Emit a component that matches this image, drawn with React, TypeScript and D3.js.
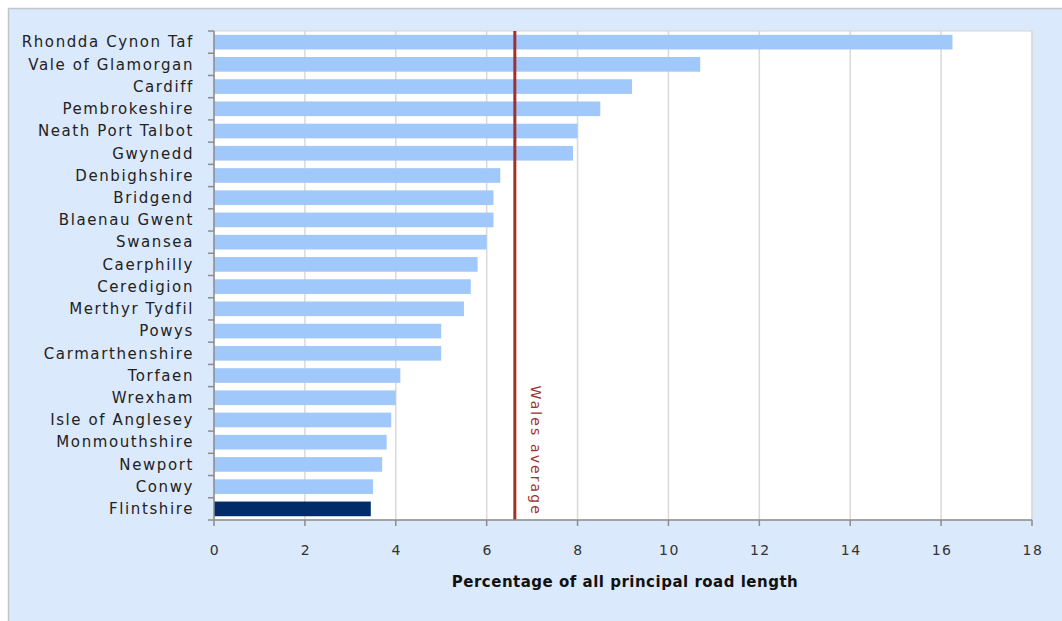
import React from "react";
import * as d3 from "d3";

const categories = [
  "Rhondda Cynon Taf", "Vale of Glamorgan", "Cardiff", "Pembrokeshire", "Neath Port Talbot",
  "Gwynedd", "Denbighshire", "Bridgend", "Blaenau Gwent", "Swansea", "Caerphilly",
  "Ceredigion", "Merthyr Tydfil", "Powys", "Carmarthenshire", "Torfaen", "Wrexham",
  "Isle of Anglesey", "Monmouthshire", "Newport", "Conwy", "Flintshire",
];
const values = [
  16.25, 10.7, 9.2, 8.5, 8.0, 7.9, 6.3, 6.15, 6.15, 6.0, 5.8,
  5.65, 5.5, 5.0, 5.0, 4.1, 4.0, 3.9, 3.8, 3.7, 3.5, 3.45,
];
const highlight = "Flintshire";
const walesAverage = 6.62;
const xTicks = [0, 2, 4, 6, 8, 10, 12, 14, 16, 18];
const xTitle = "Percentage of all principal road length";
const avgLabel = "Wales average";

export default function App() {
  const W = 1062, H = 621;
  const left = 214, right = 1032, top = 31, bottom = 520;
  const x = d3.scaleLinear().domain([0, 18]).range([left, right]);
  const y = d3.scaleBand<string>().domain(categories).range([top, bottom]).paddingInner(0.34).paddingOuter(0.17);
  const step = (bottom - top) / categories.length;
  const font = "'DejaVu Sans', Verdana, sans-serif";
  return (
    <svg width={W} height={H} style={{ position: "absolute", left: 0, top: 0 }}>
      <rect x={8.5} y={8.5} width={W} height={H} fill="#dbe9fc" stroke="#bfc5cc" strokeWidth={1.5} />
      <rect x={left} y={top} width={right - left} height={bottom - top} fill="#ffffff" stroke="#d4d4d4" />
      {xTicks.map((t) => (
        <line key={"g" + t} x1={x(t)} x2={x(t)} y1={top} y2={bottom} stroke="#d9d9d9" strokeWidth={1.5} />
      ))}
      {categories.map((c, i) => (
        <rect key={c} x={x(0)} y={y(c)} width={x(values[i]) - x(0)} height={y.bandwidth()}
          fill={c === highlight ? "#002d69" : "#a1c8fa"} />
      ))}
      <line x1={x(walesAverage)} x2={x(walesAverage)} y1={top} y2={bottom} stroke="#a0312f" strokeWidth={3} />
      <text transform={`translate(${x(walesAverage) + 16},${bottom - 4}) rotate(90)`} textAnchor="end"
        fontFamily={font} fontSize={14} fill="#a0312f" letterSpacing={2.1}>{avgLabel}</text>
      {/* axes */}
      <line x1={left} x2={right} y1={bottom} y2={bottom} stroke="#8c8c8c" strokeWidth={1.5} />
      <line x1={left} x2={left} y1={top} y2={bottom} stroke="#8c8c8c" strokeWidth={1.5} />
      {xTicks.map((t) => (
        <g key={"t" + t}>
          <line x1={x(t)} x2={x(t)} y1={bottom} y2={bottom + 6} stroke="#8c8c8c" strokeWidth={1.5} />
          <text x={x(t) + 1} y={bottom + 35} textAnchor="middle" fontFamily={font} fontSize={14} fill="#333" letterSpacing={1.5}>{t}</text>
        </g>
      ))}
      {d3.range(categories.length + 1).map((i) => (
        <line key={"yt" + i} x1={left - 6} x2={left} y1={top + i * step} y2={top + i * step} stroke="#8c8c8c" strokeWidth={1.5} />
      ))}
      {categories.map((c) => (
        <text key={"l" + c} x={left - 20} y={(y(c) ?? 0) + y.bandwidth() / 2} dy="0.35em" textAnchor="end"
          fontFamily={font} fontSize={15} fill="#222" letterSpacing={1.6}>{c}</text>
      ))}
      <text x={(left + right) / 2 + 2} y={587} textAnchor="middle" fontFamily={font} fontSize={15} fontWeight="bold" fill="#111" letterSpacing={0.5}>{xTitle}</text>
    </svg>
  );
}
